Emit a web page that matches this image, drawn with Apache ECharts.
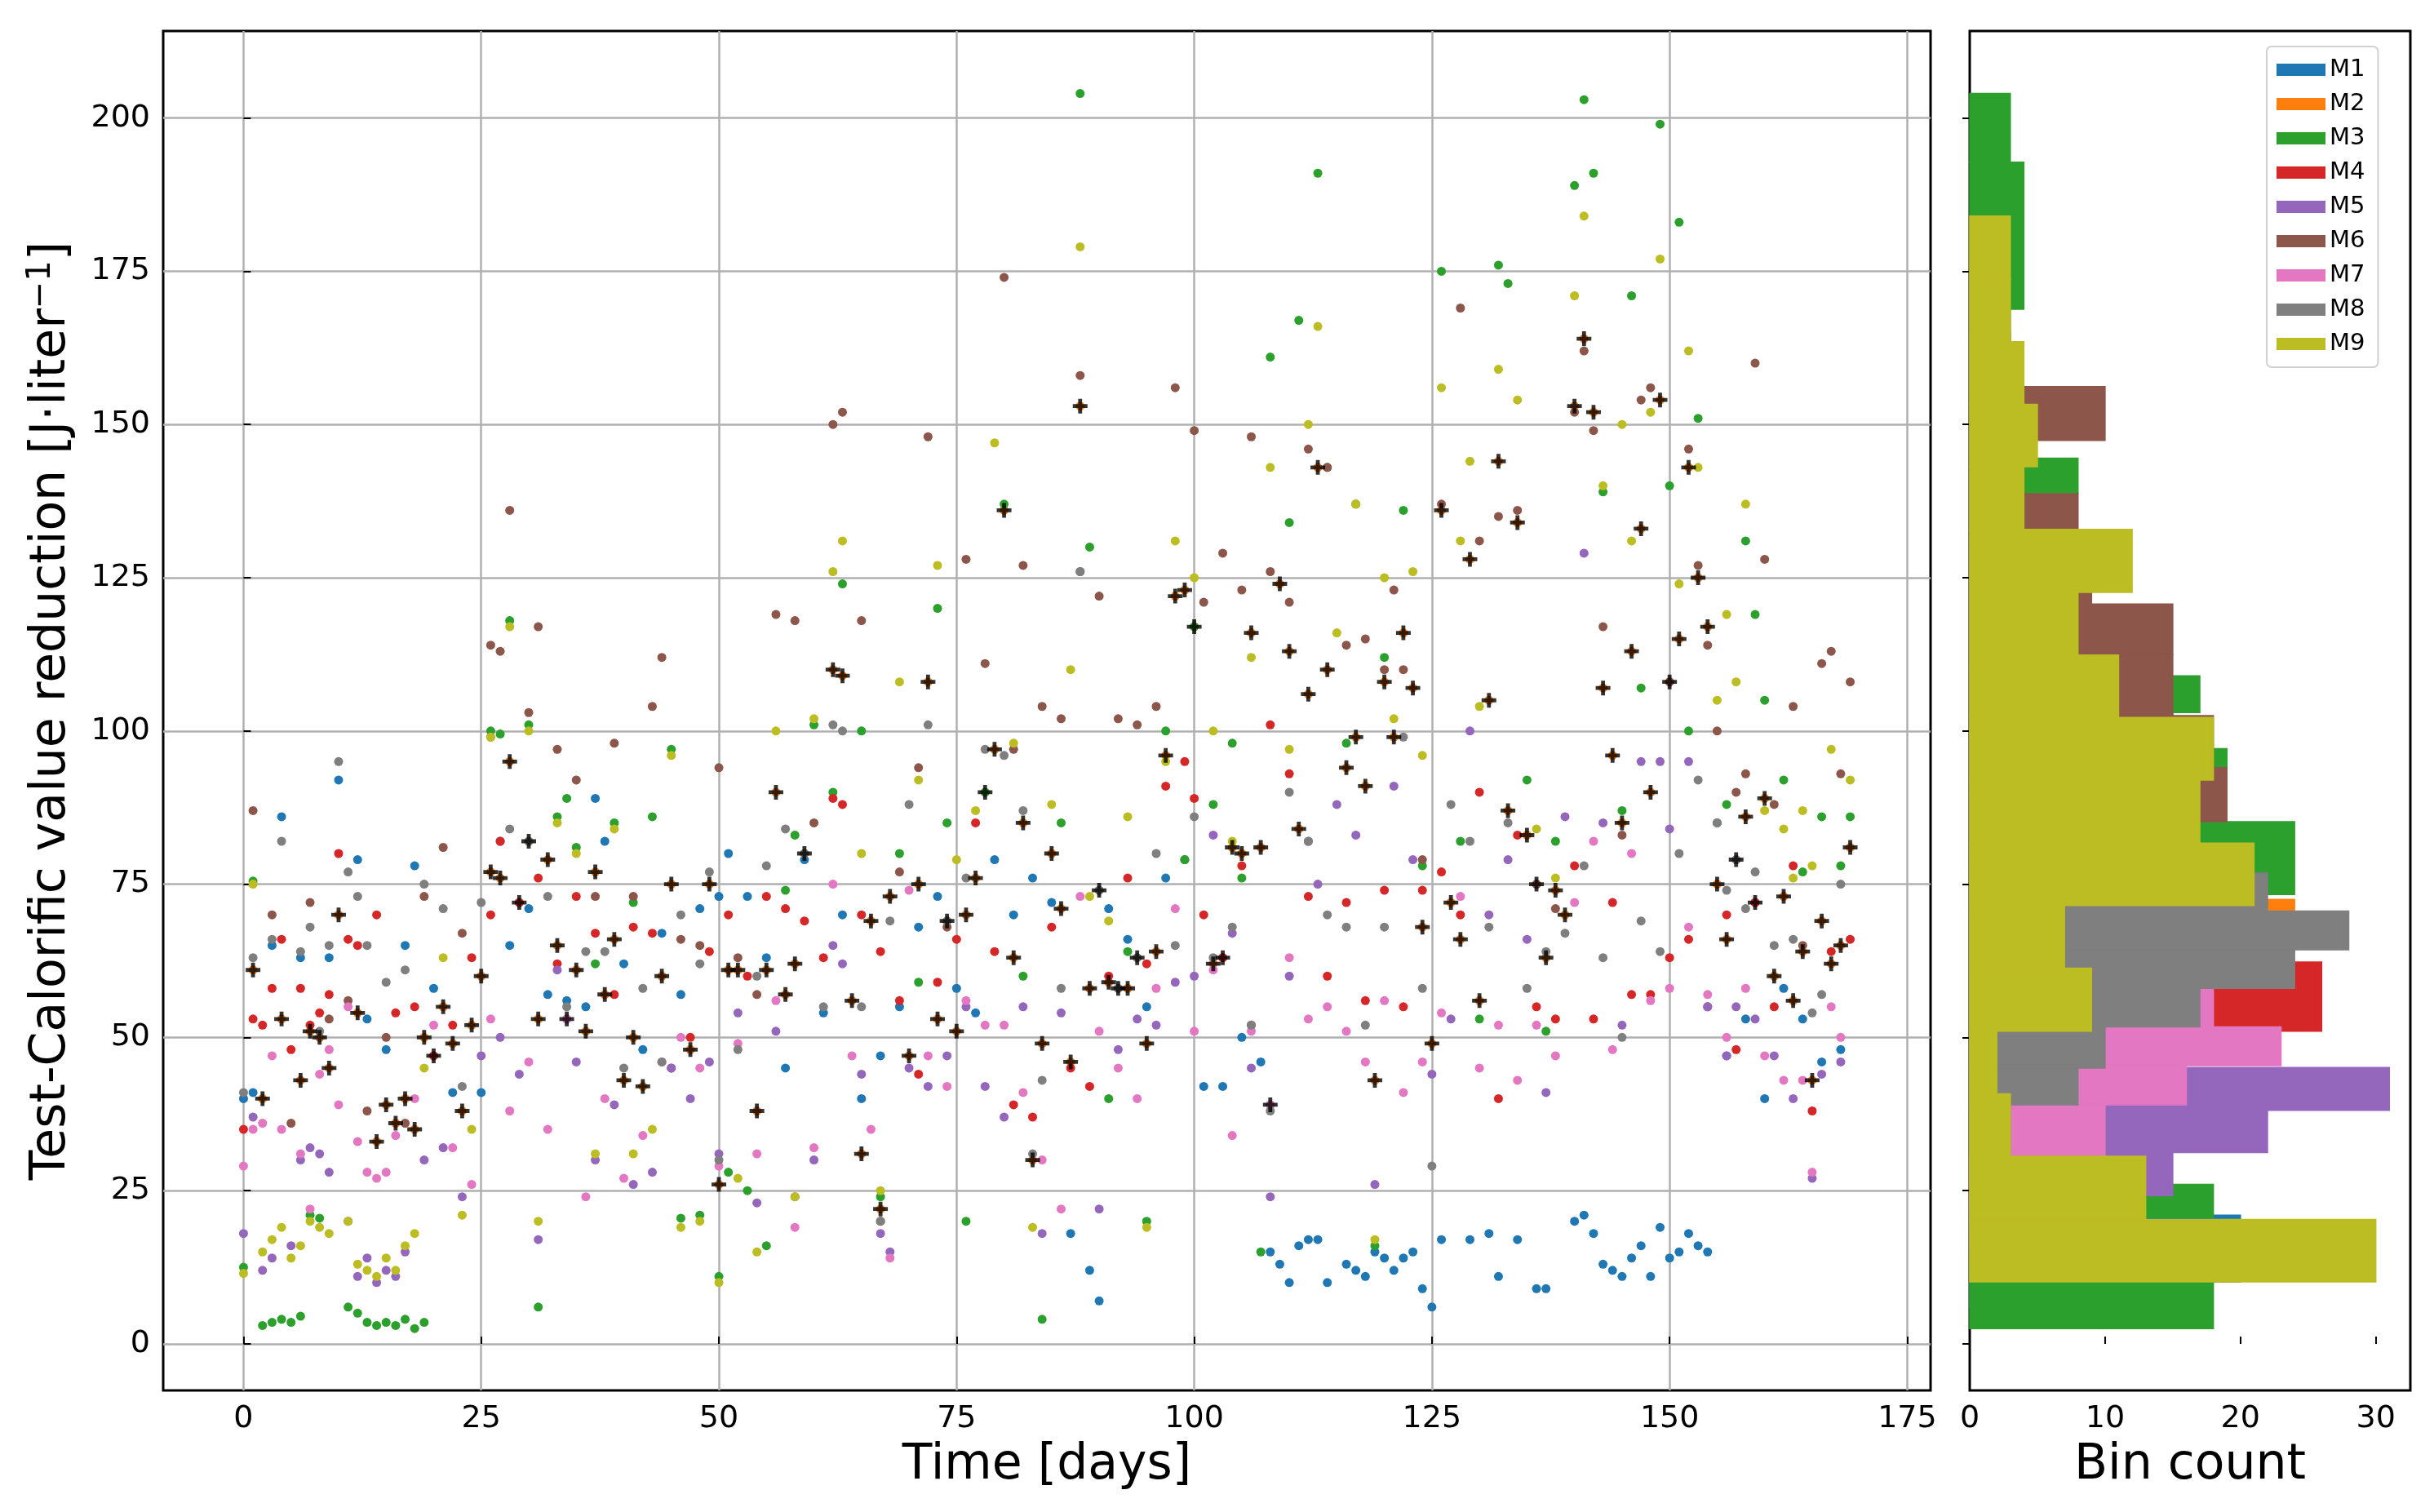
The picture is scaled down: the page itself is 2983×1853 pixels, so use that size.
<!DOCTYPE html>
<html>
<head>
<meta charset="utf-8">
<script src="https://cdn.jsdelivr.net/npm/echarts@6/dist/echarts.min.js"></script>
<style>html,body{margin:0;padding:0;background:#fff}#c{width:2983px;height:1853px}</style>
</head>
<body>
<div id="c"></div>
<script>
var names = ['M1', 'M2', 'M3', 'M4', 'M5', 'M6', 'M7', 'M8', 'M9'];
var colors = ['#1f77b4', '#ff7f0e', '#2ca02c', '#d62728', '#9467bd', '#8c564b', '#e377c2', '#7f7f7f', '#bcbd22'];
var xTicks = [0, 25, 50, 75, 100, 125, 150, 175];
var yTicks = [0, 25, 50, 75, 100, 125, 150, 175, 200];

// selected model per day (black "+"), drawn over its orange M2 point
var best = [[1,61],[2,40],[4,53],[6,43],[7,51],[8,50],[9,45],[10,70],[12,54],[14,33],[15,39],[16,36],[17,40],[18,35],[19,50],[20,47],[21,55],[22,49],[23,38],[24,52],[25,60],[26,77],[27,76],[28,95],[29,72],[30,82],[31,53],[32,79],[33,65],[34,53],[35,61],[36,51],[37,77],[38,57],[39,66],[40,43],[41,50],[42,42],[44,60],[45,75],[47,48],[49,75],[50,26],[51,61],[52,61],[54,38],[55,61],[56,90],[57,57],[58,62],[59,80],[62,110],[63,109],[64,56],[65,31],[66,69],[67,22],[68,73],[70,47],[71,75],[72,108],[73,53],[74,69],[75,51],[76,70],[77,76],[78,90],[79,97],[80,136],[81,63],[82,85],[83,30],[84,49],[85,80],[86,71],[87,46],[88,153],[89,58],[90,74],[91,59],[92,58],[93,58],[94,63],[95,49],[96,64],[97,96],[98,122],[99,123],[100,117],[102,62],[103,63],[104,81],[105,80],[106,116],[107,81],[108,39],[109,124],[110,113],[111,84],[112,106],[113,143],[114,110],[116,94],[117,99],[118,91],[119,43],[120,108],[121,99],[122,116],[123,107],[124,68],[125,49],[126,136],[127,72],[128,66],[129,128],[130,56],[131,105],[132,144],[133,87],[134,134],[135,83],[136,75],[137,63],[138,74],[139,70],[140,153],[141,164],[142,152],[143,107],[144,96],[145,85],[146,113],[147,133],[148,90],[149,154],[150,108],[151,115],[152,143],[153,125],[154,117],[155,75],[156,66],[157,79],[158,86],[159,72],[160,89],[161,60],[162,73],[163,56],[164,64],[165,43],[166,69],[167,62],[168,65],[169,81]];

var m1 = [[0,40],[1,41],[3,65],[4,86],[6,63],[8,50],[9,63],[10,92],[12,79],[13,53],[15,48],[17,65],[18,78],[20,58],[22,41],[25,41],[27,82],[28,65],[30,71],[32,57],[34,56],[36,55],[37,89],[38,82],[40,62],[42,48],[44,67],[46,57],[48,71],[50,73],[51,80],[53,73],[55,63],[57,45],[59,79],[61,54],[63,70],[65,40],[67,47],[69,55],[71,68],[73,73],[75,58],[77,54],[79,79],[81,70],[83,76],[85,72],[87,18],[89,12],[90,7],[91,71],[93,66],[95,55],[97,76],[99,79],[101,42],[103,42],[105,50],[107,46],[108,15],[109,13],[110,10],[111,16],[112,17],[113,17],[114,10],[116,13],[117,12],[118,11],[119,15],[120,14],[121,12],[122,14],[123,15],[124,9],[125,6],[126,17],[129,17],[131,18],[132,11],[134,17],[136,9],[137,9],[140,20],[141,21],[142,18],[143,13],[144,12],[145,11],[146,14],[147,16],[148,11],[149,19],[150,14],[151,15],[152,18],[153,16],[154,15],[156,47],[158,53],[160,40],[162,58],[164,53],[166,46],[168,48]];
var m3 = [[2,3],[3,3.5],[4,4],[5,3.5],[6,4.5],[11,6],[12,5],[13,3.5],[14,3],[15,3.5],[16,3],[17,4],[18,2.5],[19,3.5],[0,12.5],[1,75.5],[7,21],[8,20.5],[26,100],[27,99.5],[28,118],[30,101],[31,6],[33,86],[34,89],[35,81],[37,62],[39,85],[41,72],[43,86],[45,97],[46,20.5],[48,21],[50,11],[51,28],[53,25],[55,16],[57,74],[58,83],[60,101],[62,90],[63,124],[65,100],[67,24],[69,80],[71,59],[73,120],[74,85],[76,20],[78,90],[80,137],[82,60],[84,4],[86,85],[88,204],[89,130],[91,40],[93,64],[95,20],[97,100],[99,79],[100,117],[102,88],[104,98],[105,76],[107,15],[108,161],[110,134],[111,167],[113,191],[114,143],[116,98],[117,137],[119,16],[120,112],[122,136],[124,78],[126,175],[128,82],[130,53],[132,176],[133,173],[135,92],[137,51],[138,82],[140,189],[141,203],[142,191],[143,139],[145,87],[146,171],[147,107],[149,199],[150,140],[151,183],[152,100],[153,151],[155,85],[156,88],[158,131],[159,119],[160,105],[162,92],[164,77],[166,86],[168,78],[169,86]];
var m4 = [[0,35],[1,53],[2,52],[3,58],[4,66],[5,48],[6,58],[7,52],[8,54],[9,57],[10,80],[11,66],[12,65],[14,70],[16,54],[18,55],[20,47],[22,52],[24,63],[26,70],[27,82],[29,72],[31,76],[33,62],[35,73],[37,67],[39,57],[41,68],[43,67],[45,45],[47,50],[49,64],[51,70],[53,60],[55,73],[57,71],[59,69],[61,63],[62,89],[63,88],[65,70],[67,64],[69,56],[71,44],[73,59],[75,66],[77,85],[79,64],[81,39],[83,37],[85,68],[87,45],[89,42],[91,60],[93,76],[95,62],[97,91],[99,95],[100,89],[101,70],[103,63],[105,78],[106,52],[108,101],[110,93],[112,73],[114,60],[116,72],[118,56],[120,74],[122,55],[124,74],[126,77],[128,70],[130,90],[132,40],[134,83],[136,55],[138,53],[140,78],[142,53],[144,72],[146,57],[148,57],[150,63],[152,66],[154,55],[156,70],[157,48],[159,72],[161,55],[163,78],[165,38],[167,64],[169,66]];
var m5 = [[0,18],[1,37],[2,12],[3,14],[5,16],[6,30],[7,32],[8,31],[9,28],[11,20],[12,11],[13,14],[14,10],[15,12],[16,11],[17,15],[19,30],[21,32],[23,24],[25,47],[27,50],[29,44],[31,17],[33,61],[35,46],[37,30],[39,39],[41,26],[43,28],[45,45],[47,40],[49,46],[50,31],[52,54],[54,23],[56,51],[58,24],[60,30],[62,65],[63,62],[65,44],[67,18],[68,15],[70,45],[72,42],[74,47],[76,55],[78,42],[80,37],[82,55],[84,18],[86,54],[88,126],[90,22],[92,48],[94,53],[96,52],[98,59],[100,60],[102,83],[104,67],[106,45],[108,24],[110,60],[112,82],[113,75],[115,88],[117,83],[119,26],[121,91],[123,79],[125,44],[127,53],[129,100],[131,70],[133,79],[135,66],[137,41],[139,86],[141,129],[143,85],[145,52],[147,95],[149,95],[150,84],[152,95],[154,55],[156,47],[157,55],[159,53],[161,47],[163,40],[165,27],[166,44],[168,46]];
var m6 = [[1,87],[3,70],[5,36],[7,72],[9,53],[11,56],[13,38],[15,50],[17,36],[19,73],[21,81],[23,67],[26,114],[27,113],[28,136],[30,103],[31,117],[33,97],[35,92],[37,73],[39,98],[41,73],[43,104],[44,112],[46,66],[48,65],[50,94],[52,63],[54,57],[56,119],[58,118],[60,85],[62,150],[63,152],[65,118],[67,20],[69,77],[71,94],[72,148],[74,68],[76,128],[78,111],[80,174],[81,97],[82,127],[84,104],[86,102],[88,158],[90,122],[92,102],[94,101],[96,104],[98,156],[100,149],[101,121],[103,129],[105,123],[106,148],[108,126],[110,121],[112,146],[114,143],[116,114],[118,115],[120,110],[121,123],[122,110],[124,79],[126,137],[128,169],[130,131],[132,135],[134,136],[136,75],[138,71],[140,152],[141,162],[142,149],[143,117],[145,83],[147,154],[148,156],[150,108],[152,146],[153,127],[154,114],[155,100],[157,90],[158,93],[159,160],[160,128],[161,88],[163,104],[164,65],[166,111],[167,113],[168,93],[169,108]];
var m7 = [[0,29],[1,35],[2,36],[3,47],[4,35],[6,31],[7,22],[8,44],[9,48],[10,39],[11,55],[12,33],[13,28],[14,27],[15,28],[16,34],[18,40],[20,52],[22,32],[24,26],[26,53],[28,38],[30,46],[32,35],[34,53],[36,24],[38,40],[40,27],[42,34],[44,46],[46,50],[48,45],[50,29],[52,49],[54,31],[56,56],[58,19],[60,32],[62,75],[64,47],[66,35],[68,14],[70,74],[72,47],[74,42],[76,56],[78,52],[80,52],[82,41],[84,30],[86,22],[88,73],[90,51],[92,45],[94,40],[96,58],[98,71],[100,51],[102,61],[104,34],[106,51],[108,39],[110,63],[112,53],[114,55],[116,51],[118,46],[120,56],[122,41],[124,46],[126,54],[128,73],[130,45],[132,52],[134,43],[136,52],[138,47],[140,72],[142,82],[144,48],[146,80],[148,56],[150,58],[152,68],[154,57],[156,50],[158,58],[160,47],[162,43],[164,43],[165,28],[167,55],[168,50]];
var m8 = [[0,41],[1,63],[3,66],[4,82],[6,64],[7,68],[8,51],[9,65],[10,95],[11,77],[12,73],[13,65],[15,59],[17,61],[19,75],[21,71],[23,42],[25,72],[26,99],[28,84],[30,82],[32,73],[34,55],[36,64],[38,64],[40,45],[42,58],[44,46],[46,70],[48,62],[49,77],[50,30],[52,48],[54,60],[55,78],[57,84],[59,80],[61,55],[62,101],[63,100],[65,55],[67,20],[68,69],[70,88],[72,101],[74,69],[76,76],[78,97],[80,96],[82,87],[83,31],[84,43],[86,58],[88,126],[90,74],[92,58],[94,63],[96,80],[98,65],[100,86],[102,63],[104,68],[106,52],[108,38],[110,90],[112,82],[114,70],[116,68],[118,52],[120,68],[122,99],[124,58],[125,29],[127,88],[129,82],[131,68],[133,85],[135,58],[137,64],[139,67],[141,78],[143,63],[145,50],[147,69],[149,64],[151,80],[153,92],[155,85],[156,74],[157,79],[158,71],[159,77],[161,65],[163,66],[165,54],[166,57],[168,75]];
var m9 = [[0,11.5],[1,75],[2,15],[3,17],[4,19],[5,14],[6,16],[7,20],[8,19],[9,18],[11,20],[12,13],[13,12],[14,11],[15,14],[16,12],[17,16],[18,18],[19,45],[21,63],[23,21],[24,35],[26,99],[28,117],[30,100],[31,20],[33,85],[35,80],[37,31],[39,84],[41,31],[43,35],[45,96],[46,19],[48,20],[50,10],[52,27],[54,15],[56,100],[58,24],[60,102],[62,126],[63,131],[65,80],[67,25],[69,108],[71,92],[73,127],[75,79],[77,87],[79,147],[81,98],[83,19],[85,88],[87,110],[88,179],[89,73],[91,69],[93,86],[95,19],[97,95],[98,131],[100,125],[102,100],[104,82],[106,112],[108,143],[110,97],[112,150],[113,166],[115,116],[117,137],[119,17],[120,125],[121,102],[123,126],[124,96],[126,156],[128,131],[129,144],[130,104],[132,159],[134,154],[136,84],[138,76],[140,171],[141,184],[143,140],[145,150],[146,131],[148,152],[149,177],[151,124],[152,162],[153,143],[155,105],[156,119],[157,108],[158,137],[160,87],[162,84],[163,76],[164,87],[165,78],[167,97],[169,92]];
var points = [m1, best, m3, m4, m5, m6, m7, m8, m9];

// histogram bins per model: [low, high, count]
var h1 = [[6,10.1,3],[10.1,21,20],[30,45,14],[45,60,15],[60,95,10]];
var h2 = [[40,55,10],[55,64,18],[64,72.5,24],[72.5,85,12],[85,110,6],[110,165,3]];
var h3 = [[2.5,10.1,18],[10.1,20.6,6],[20.6,26,18],[26,34,3],[34,50,2],[50,73.3,10],[73.3,85.2,24],[85.2,94,17],[94,97.1,19],[97.1,103,15],[103,109,17],[109,132,6],[132,138.7,3],[138.7,144.5,8],[144.5,168.8,3],[168.8,192.8,4],[192.8,204,3]];
var h4 = [[30,40,4],[40,51,14],[51,62.3,26],[62.3,75,15],[75,90,6]];
var h5 = [[15,24.2,8],[24.2,31.2,15],[31.2,38.1,22],[38.1,45.1,31],[45.1,52,12],[52,60,6],[60,100,3]];
var h6 = [[25,50,3],[50,75,8],[75,85.2,10],[85.2,94,19],[94,102.5,18],[102.5,112.5,15],[112.5,120.7,15],[120.7,122.8,9],[122.8,132.9,5],[132.9,138.7,8],[138.7,147.4,4],[147.4,156.2,10],[156.2,175,1]];
var h7 = [[20,30.7,4],[30.7,39,10],[39,45.4,16],[45.4,51.7,23],[51.7,58,18],[58,64,12],[64,80,5]];
var h8 = [[30.7,39,3],[39,45,8],[45,51.7,10],[51.7,58,17],[58,64.3,24],[64.3,70.6,28],[70.6,76.8,22],[76.8,90,12],[90,110,6],[110,130,3]];
var h9 = [[10.1,20.3,30],[20.3,30.6,13],[30.6,40.8,3],[40.8,51,2],[51,61.3,9],[61.3,71.5,7],[71.5,81.7,21],[81.7,92,17],[92,102.2,18],[102.2,112.4,11],[112.4,122.6,8],[122.6,132.9,12],[132.9,143.1,4],[143.1,153.3,5],[153.3,163.5,4],[163.5,173.8,3],[173.8,184,3]];
var bins = [h1, h2, h3, h4, h5, h6, h7, h8, h9];

var font = 'DejaVu Sans';
var chart = echarts.init(document.getElementById('c'));

var series = [];
for (var i = 0; i < names.length; i++) {
    series.push({
        name: names[i],
        type: 'scatter',
        xAxisIndex: 0,
        yAxisIndex: 0,
        symbolSize: 11,
        itemStyle: { color: colors[i], opacity: 1 },
        data: points[i],
        z: 2 + i * 0.01
    });
}
series.push({
    name: 'best',
    type: 'scatter',
    xAxisIndex: 0,
    yAxisIndex: 0,
    symbol: 'path://M-1.6,-6H1.6V-1.6H6V1.6H1.6V6H-1.6V1.6H-6V-1.6H-1.6Z',
    symbolSize: 18,
    itemStyle: { color: '#000' },
    data: best,
    z: 3
});
for (var i = 0; i < names.length; i++) {
    series.push({
        name: names[i],
        type: 'custom',
        xAxisIndex: 1,
        yAxisIndex: 1,
        itemStyle: { color: colors[i] },
        encode: { x: 2, y: [0, 1] },
        data: bins[i],
        z: 2 + i * 0.01,
        renderItem: function(params, api) {
            var p0 = api.coord([0, api.value(0)]);
            var p1 = api.coord([api.value(2), api.value(1)]);
            var c = api.visual('color');
            return {
                type: 'rect',
                shape: { x: p0[0], y: p1[1], width: p1[0] - p0[0], height: p0[1] - p1[1] },
                style: { fill: c, stroke: c, lineWidth: 1.5 }
            };
        }
    });
}

function axisText(size) {
    return { color: '#000', fontFamily: font, fontSize: size };
}

chart.setOption({
    animation: false,
    color: colors,
    textStyle: { fontFamily: font },
    legend: {
        data: names,
        orient: 'vertical',
        left: 2778,
        top: 57,
        icon: 'rect',
        itemWidth: 60,
        itemHeight: 15,
        itemGap: 13,
        padding: [14, 16, 14, 12],
        borderColor: '#d0d0d0',
        borderWidth: 2,
        borderRadius: 6,
        backgroundColor: '#fff',
        textStyle: axisText(29)
    },
    grid: [
        { left: 200, top: 38, width: 2166, height: 1666, show: true, borderColor: '#000', borderWidth: 3, backgroundColor: 'transparent' },
        { left: 2414, top: 38, width: 540, height: 1666, show: true, borderColor: '#000', borderWidth: 3, backgroundColor: 'transparent' }
    ],
    xAxis: [{
        gridIndex: 0,
        type: 'value',
        min: -8.45,
        max: 177.45,
        name: 'Time [days]',
        nameLocation: 'middle',
        nameGap: 62,
        nameTextStyle: axisText(60),
        axisLine: { show: false },
        axisTick: { inside: true, length: 9, customValues: xTicks, lineStyle: { color: '#000', width: 2 } },
        axisLabel: Object.assign({ customValues: xTicks, margin: 16 }, axisText(38)),
        splitLine: { show: true, lineStyle: { color: '#b0b0b0', width: 2.5 } }
    }, {
        gridIndex: 1,
        type: 'value',
        min: 0,
        max: 32.55,
        interval: 10,
        name: 'Bin count',
        nameLocation: 'middle',
        nameGap: 62,
        nameTextStyle: axisText(60),
        axisLine: { show: false },
        axisTick: { show: true, inside: true, length: 9, lineStyle: { color: '#000', width: 2 } },
        axisLabel: Object.assign({ margin: 16, showMaxLabel: false }, axisText(38)),
        splitLine: { show: false }
    }],
    yAxis: [{
        gridIndex: 0,
        type: 'value',
        min: -7.6,
        max: 214.2,
        name: 'Test-Calorific value reduction [J·liter{sup|−1}]',
        nameLocation: 'middle',
        nameGap: 105,
        nameTextStyle: Object.assign({ rich: { sup: { fontSize: 40, verticalAlign: 'top', padding: [0, 0, 24, 0], fontFamily: font, color: '#000' } } }, axisText(60)),
        axisLine: { show: false },
        axisTick: { inside: true, length: 9, customValues: yTicks, lineStyle: { color: '#000', width: 2 } },
        axisLabel: Object.assign({ customValues: yTicks, margin: 16 }, axisText(38)),
        splitLine: { show: true, lineStyle: { color: '#b0b0b0', width: 2.5 } }
    }, {
        gridIndex: 1,
        type: 'value',
        min: -7.6,
        max: 214.2,
        axisLine: { show: false },
        axisTick: { show: true, inside: false, length: 9, customValues: yTicks, lineStyle: { color: '#000', width: 2 } },
        axisLabel: { show: false, customValues: yTicks },
        splitLine: { show: false }
    }],
    series: series
});
</script>
</body>
</html>
